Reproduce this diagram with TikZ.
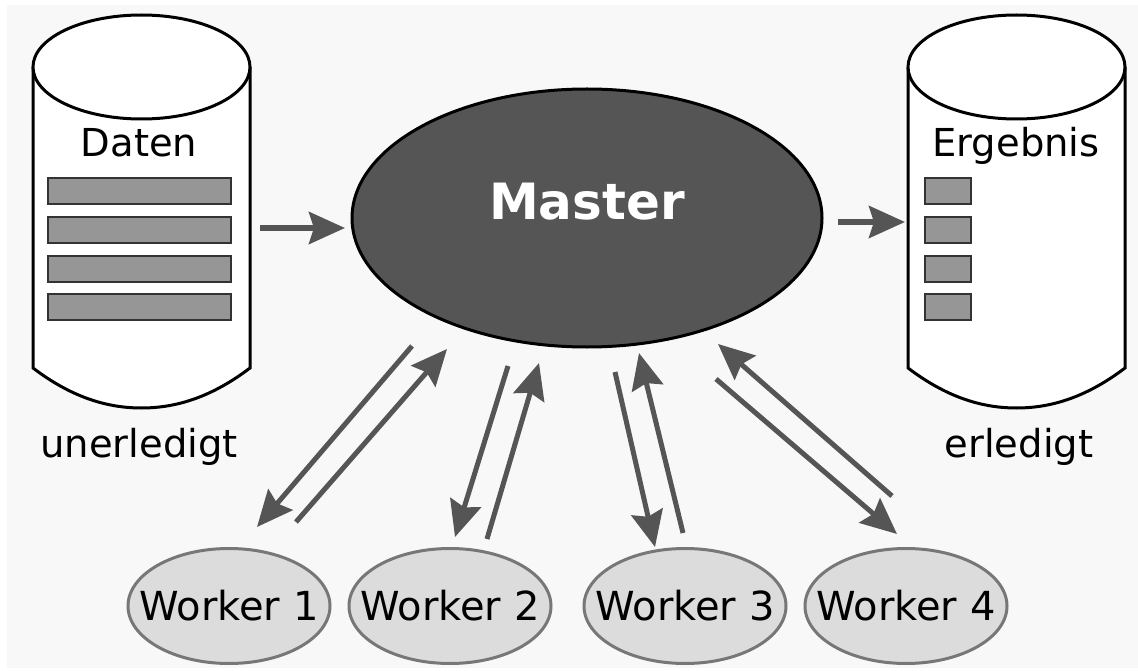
\documentclass[tikz,border=0pt]{standalone}
\usepackage{fontspec}
\setmainfont{DejaVu Sans}
\usetikzlibrary{shapes.geometric,arrows.meta}

\definecolor{hintergrund}{HTML}{F8F8F8}
\definecolor{pfeilgrau}{HTML}{555555}
\definecolor{balkengrau}{HTML}{969696}
\definecolor{workergrau}{HTML}{DCDCDC}
\definecolor{randgrau}{HTML}{777777}

\begin{document}
\begin{tikzpicture}[x=1pt,y=-1pt,
  speicher/.style={draw=black,line width=3pt,fill=white},
  balken/.style={draw=black!80,line width=2pt,fill=balkengrau},
  master knoten/.style={ellipse,draw=black,line width=3pt,fill=pfeilgrau,
    minimum width=470pt,minimum height=258pt,inner sep=0pt},
  worker knoten/.style={ellipse,draw=randgrau,line width=3pt,fill=workergrau,
    minimum width=202pt,minimum height=115pt,inner xsep=-40pt,inner ysep=0pt,
    font=\fontsize{40}{48}\selectfont},
  beschriftung/.style={anchor=base,font=\fontsize{38.5}{46}\selectfont},
  pfeil/.style={draw=pfeilgrau,line width=5pt,
    -{Stealth[length=36pt,width=32pt,inset=5pt]}}]

  % 背景
  \useasboundingbox (0,0) rectangle (1138,671);
  \fill[white] (0,0) rectangle (1138,671);
  \fill[hintergrund] (7,5) rectangle (1138,668);

  % 左边的数据库
  \draw[speicher] (33,67) -- (33,368)
    .. controls (70,396) and (105,408) .. (141.5,408)
    .. controls (178,408) and (213,396) .. (250,368) -- (250,67);
  \draw[speicher] (141.5,67) ellipse [x radius=108.5pt, y radius=52pt];
  \node[beschriftung] (daten) at (139,157) {Daten};
  \foreach \y in {178,217,256,294}
    \draw[balken] (48,\y) rectangle (231,\y+26);
  \node[beschriftung] (unerledigt) at (139,457) {unerledigt};

  % 右边的数据库
  \draw[speicher] (908,67) -- (908,368)
    .. controls (945,396) and (980,408) .. (1016.5,408)
    .. controls (1053,408) and (1088,396) .. (1125,368) -- (1125,67);
  \draw[speicher] (1016.5,67) ellipse [x radius=108.5pt, y radius=52pt];
  \node[beschriftung] (ergebnis) at (1016,157) {Ergebnis};
  \foreach \y in {178,217,256,294}
    \draw[balken] (925,\y) rectangle (971,\y+26);
  \node[beschriftung] (erledigt) at (1019,457) {erledigt};

  % Master
  \node[master knoten] (master) at (587,218) {};
  \node[anchor=base,text=white,font=\bfseries\fontsize{50}{60}\selectfont]
    (master text) at (587,220) {Master};

  % Worker
  \node[worker knoten] (worker1) at (229,606) {Worker 1};
  \node[worker knoten] (worker2) at (450,606) {Worker 2};
  \node[worker knoten] (worker3) at (685,606) {Worker 3};
  \node[worker knoten] (worker4) at (906,606) {Worker 4};

  % 箭头的端点
  \coordinate (daten aus) at (260,228);
  \coordinate (master ein) at (345,228);
  \coordinate (master aus) at (838,222);
  \coordinate (ergebnis ein) at (905,222);

  \coordinate (m1 ab) at (412,346);  \coordinate (w1 ein) at (257,527);
  \coordinate (w1 aus) at (296,522); \coordinate (m1 auf) at (447,349);
  \coordinate (m2 ab) at (508,366);  \coordinate (w2 ein) at (455,537);
  \coordinate (w2 aus) at (487,539); \coordinate (m2 auf) at (539,363);
  \coordinate (m3 ab) at (615,372);  \coordinate (w3 ein) at (655,547);
  \coordinate (w3 aus) at (683,533); \coordinate (m3 auf) at (639,353);
  \coordinate (m4 ab) at (716,379);  \coordinate (w4 ein) at (897,534);
  \coordinate (w4 aus) at (892,496); \coordinate (m4 auf) at (718,344);

  % 箭头
  \draw[pfeil,line width=5.5pt] (daten aus) -- (master ein);
  \draw[pfeil,line width=5.5pt] (master aus) -- (ergebnis ein);

  \draw[pfeil] (m1 ab) -- (w1 ein);
  \draw[pfeil] (w1 aus) -- (m1 auf);
  \draw[pfeil] (m2 ab) -- (w2 ein);
  \draw[pfeil] (w2 aus) -- (m2 auf);
  \draw[pfeil] (m3 ab) -- (w3 ein);
  \draw[pfeil] (w3 aus) -- (m3 auf);
  \draw[pfeil] (m4 ab) -- (w4 ein);
  \draw[pfeil] (w4 aus) -- (m4 auf);

\end{tikzpicture}
\end{document}
